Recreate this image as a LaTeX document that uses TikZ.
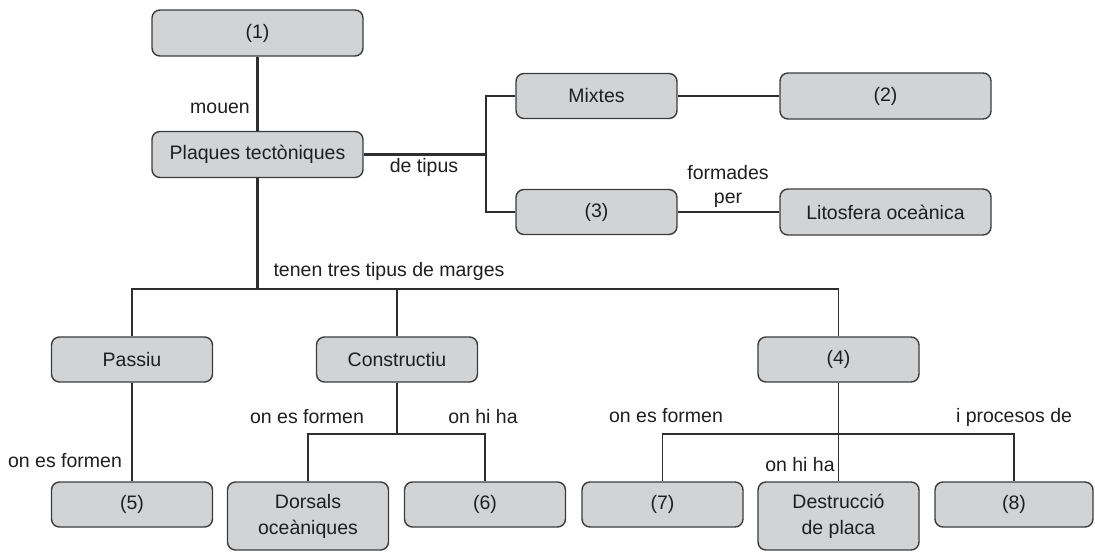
\documentclass[tikz,border=0pt]{standalone}
\usepackage{fontspec}
\setmainfont{Liberation Sans}
\definecolor{boxfill}{HTML}{D2D3D5}
\definecolor{boxline}{HTML}{3C3C3C}
\definecolor{linkcol}{HTML}{2E2E2E}
\definecolor{txt}{HTML}{1E1E1E}
\tikzset{
  concept/.style={draw=boxline, fill=boxfill, line width=1.4pt, rounded corners=8pt,
    inner sep=0pt, align=center, text=txt, font=\fontsize{19.5}{26}\selectfont},
  wide/.style={concept, minimum width=211pt, minimum height=46pt},
  narrow/.style={concept, minimum width=161pt, minimum height=45pt},
  tall/.style={concept, minimum width=161pt, minimum height=68pt},
  link/.style={draw=linkcol, line width=1.4pt},
  strong/.style={draw=linkcol, line width=3pt},
  lbl/.style={inner sep=0pt, text=txt, font=\fontsize{19.5}{26}\selectfont, align=center}
}
\begin{document}
\begin{tikzpicture}[x=1pt, y=-1pt]
\useasboundingbox (0,0) rectangle (1095,552);

% concept boxes
\node[wide]   (n1)      at (257.5, 33)    {(1)};
\node[wide]   (plaques) at (257.5, 154.5) {Plaques tectòniques};
\node[narrow] (mixtes)  at (596.5, 96)    {Mixtes};
\node[wide]   (n2)      at (885.5, 96)    {(2)};
\node[narrow] (n3)      at (596.5, 212)   {(3)};
\node[wide]   (lito)    at (885.5, 212)   {Litosfera oceànica};
\node[narrow] (passiu)  at (132, 359.5)   {Passiu};
\node[narrow] (constr)  at (397, 359.5)   {Constructiu};
\node[narrow] (n4)      at (838.5, 359.5) {(4)};
\node[narrow] (n5)      at (132, 504.5)   {(5)};
\node[tall]   (dorsals) at (308, 516)     {Dorsals\\oceàniques};
\node[narrow] (n6)      at (485, 504.5)   {(6)};
\node[narrow] (n7)      at (662.5, 504.5) {(7)};
\node[tall]   (destr)   at (838.5, 516)   {Destrucció\\de placa};
\node[narrow, minimum width=158pt] (n8) at (1014, 504.5) {(8)};

% junction points
\coordinate (jt) at (486, 154.5);
\coordinate (jm) at (257.5, 289);
\coordinate (jc) at (397, 434);
\coordinate (j4) at (838.5, 434);

% connectors
\draw[strong] (n1.south) -- (plaques.north);
\draw[strong] (plaques.east) -- (jt);
\draw[link] (mixtes.west) -| (jt) |- (n3.west);
\draw[link] (mixtes.east) -- (n2.west);
\draw[link] (n3.east) -- (lito.west);
\draw[strong] (plaques.south) -- (jm);
\draw[link] (passiu.north) |- (jm) -| (n4.north);
\draw[link] (constr.north) -- (constr.north |- jm);
\draw[link] (passiu.south) -- (n5.north);
\draw[link] (constr.south) -- (jc);
\draw[link] (dorsals.north) |- (jc) -| (n6.north);
\draw[link] (n4.south) -- (destr.north);
\draw[link] (n7.north) |- (j4) -| (n8.north);

% connector labels
\node[lbl] (l1)  at (220, 108)   {mouen};
\node[lbl] (l2)  at (424, 167)   {de tipus};
\node[lbl] (l3)  at (728, 173)   {formades};
\node[lbl] (l3b) at (728, 200)   {per};
\node[lbl] (l4)  at (389, 271)   {tenen tres tipus de marges};
\node[lbl] (l5)  at (65, 461)    {on es formen};
\node[lbl] (l6)  at (307, 417)   {on es formen};
\node[lbl] (l7)  at (483, 417)   {on hi ha};
\node[lbl] (l8)  at (666, 416)   {on es formen};
\node[lbl] (l9)  at (800, 465)   {on hi ha};
\node[lbl] (l10) at (1014, 417)  {i procesos de};
\end{tikzpicture}
\end{document}
